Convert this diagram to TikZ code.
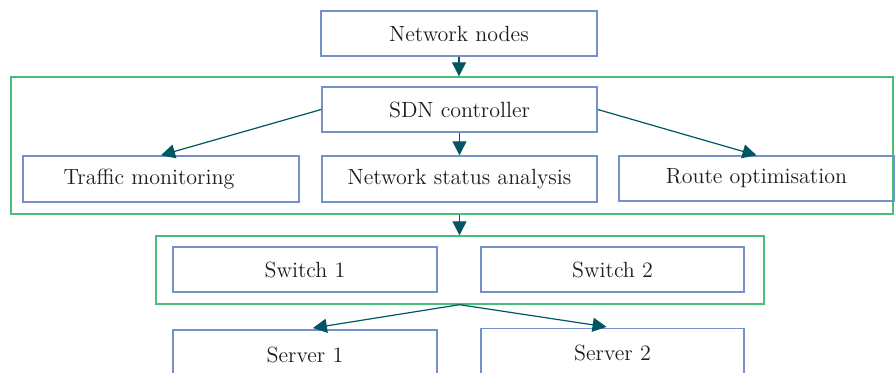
\documentclass[tikz,border=0pt]{standalone}
\usepackage{tikz}
\usetikzlibrary{arrows.meta}

\definecolor{boxblue}{RGB}{116,146,200}
\definecolor{groupgreen}{RGB}{72,190,120}
\definecolor{arrowteal}{RGB}{0,86,99}
\definecolor{textgray}{RGB}{30,28,28}

\tikzset{
  box/.style={draw=boxblue, line width=0.7pt, minimum height=22.5pt, inner sep=0pt,
    text=textgray, font=\fontsize{11}{13}\selectfont},
  group/.style={draw=groupgreen, line width=0.7pt, inner sep=0pt},
  flow/.style={draw=arrowteal, line width=0.6pt, -{Triangle[length=7pt,width=7pt]}}
}

\begin{document}
\begin{tikzpicture}[x=0.5pt,y=-0.5pt]
    \useasboundingbox (0,0) rectangle (895,373);
    \clip (0,0) rectangle (895,373);
    %groups
    \node[group, minimum width=441pt, minimum height=68.5pt] (sdnzone) at (452,145.5) {};
    \node[group, minimum width=304pt, minimum height=34pt] (switchzone) at (460,270) {};
    %boxes
    \node[box, minimum width=138pt] (net) at (459,33.5) {Network nodes};
    \node[box, minimum width=137.5pt] (sdn) at (459.5,109.5) {SDN controller};
    \node[box, minimum width=138pt, minimum height=23pt] (traffic) at (161,179) {Traffic monitoring\hspace*{12pt}};
    \node[box, minimum width=137.5pt, minimum height=23pt] (status) at (459.5,179) {Network status analysis};
    \node[box, minimum width=137.5pt] (route) at (756.5,178.5) {Route optimisation};
    \node[box, minimum width=132pt] (sw1) at (305,269.5) {Switch 1};
    \node[box, minimum width=131.5pt] (sw2) at (612.5,269.5) {Switch 2};
    \node[box, minimum width=132pt, minimum height=24.5pt] (srv1) at (305,354.5) {Server 1};
    \node[box, minimum width=131.5pt, minimum height=24.5pt] (srv2) at (612.5,353) {Server 2};
    %arrows
    \draw[flow] (net) -- (net |- sdnzone.north);
    \draw[flow] (sdn.west) -- (traffic.north);
    \draw[flow] (sdn) -- (status);
    \draw[flow] (sdn.east) -- (route.north);
    \draw[flow] (sdn |- sdnzone.south) -- (sdn |- switchzone.north);
    \draw[flow, shorten >=4pt] (sdn |- switchzone.south) -- (srv1.north);
    \draw[flow, shorten >=3pt] (sdn |- switchzone.south) -- (srv2.north);
\end{tikzpicture}
\end{document}
